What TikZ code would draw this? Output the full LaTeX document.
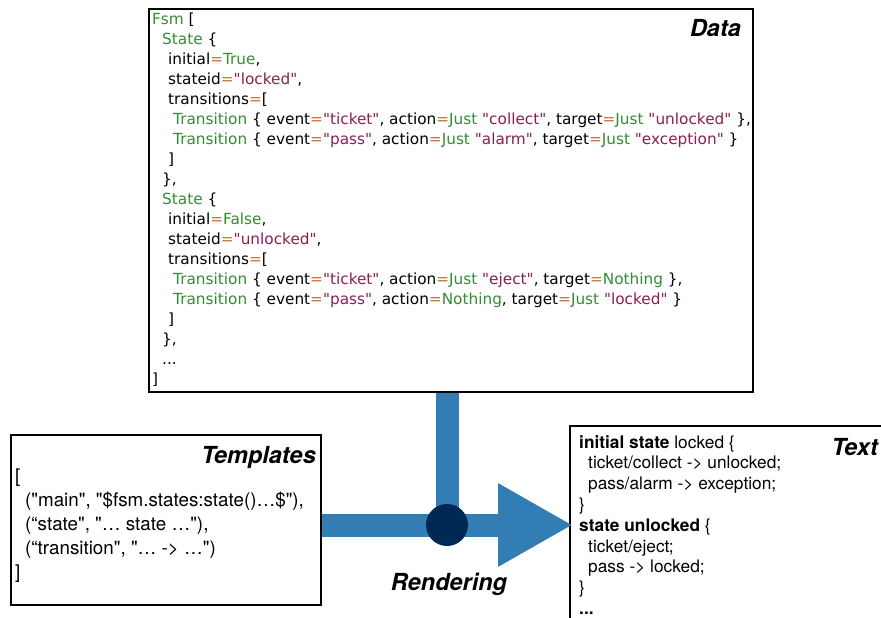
\documentclass[tikz,border=0pt]{standalone}
\usepackage{fontspec}
\setmainfont{TeX Gyre Heros}[Ligatures=TeXOff]
\newfontfamily\codefont{DejaVu Sans}[Ligatures=TeXOff]
\usetikzlibrary{positioning,arrows.meta}

\definecolor{fsmgreen}{RGB}{52,140,52}
\definecolor{fsmstring}{RGB}{140,30,80}
\definecolor{fsmequal}{RGB}{200,110,60}
\definecolor{flowblue}{RGB}{50,125,180}
\definecolor{joinnavy}{RGB}{0,40,85}

\newcommand{\fsmkw}[1]{\textcolor{fsmgreen}{#1}}
\newcommand{\fsmstr}[1]{\textcolor{fsmstring}{"#1"}}
\newcommand{\fsmeq}{\textcolor{fsmequal}{=}}

\begin{document}
\begin{tikzpicture}[x=1pt, y=-1pt,
boxnode/.style={rectangle, draw=black, line width=2pt, anchor=north west, inner sep=0pt},
codenode/.style={anchor=north west, inner sep=0pt, align=left},
titlenode/.style={anchor=base east, inner sep=0pt, font=\fontsize{23.5}{26}\selectfont\bfseries\itshape},
flow/.style={draw=flowblue, line width=23pt},
]
\useasboundingbox (0,0) rectangle (881,618);

%Boxes
\node[boxnode, minimum width=604pt, minimum height=383pt] (data)      at (148,8)   {};
\node[boxnode, minimum width=310pt, minimum height=170pt] (templates) at (10,434)  {};
\node[boxnode, minimum width=340pt, minimum height=220pt] (text)      at (569,425) {};

%Titles
\node[titlenode] (datatitle)      at (741,37)  {Data};
\node[titlenode] (templatestitle) at (316,463) {Templates};
\node[titlenode] (texttitle)      at (878,455) {Text};
\node[titlenode, anchor=base] (rendering) at (449,590) {Rendering};

%Contents
\node[codenode, font=\codefont\fontsize{15.3}{20}\selectfont] (datacode) at (152,13) {%
\fsmkw{Fsm} [\\
\hspace{10pt}\fsmkw{State} \{\\
\hspace{16pt}initial\fsmeq\fsmkw{True},\\
\hspace{16pt}stateid\fsmeq\fsmstr{locked},\\
\hspace{16pt}transitions\fsmeq[\\
\hspace{21pt}\fsmkw{Transition} \{ event\fsmeq\fsmstr{ticket}, action\fsmeq\fsmkw{Just} \fsmstr{collect}, target\fsmeq\fsmkw{Just} \fsmstr{unlocked} \},\\
\hspace{21pt}\fsmkw{Transition} \{ event\fsmeq\fsmstr{pass}, action\fsmeq\fsmkw{Just} \fsmstr{alarm}, target\fsmeq\fsmkw{Just} \fsmstr{exception} \}\\
\hspace{16pt}]\\
\hspace{10pt}\},\\
\hspace{10pt}\fsmkw{State} \{\\
\hspace{16pt}initial\fsmeq\fsmkw{False},\\
\hspace{16pt}stateid\fsmeq\fsmstr{unlocked},\\
\hspace{16pt}transitions\fsmeq[\\
\hspace{21pt}\fsmkw{Transition} \{ event\fsmeq\fsmstr{ticket}, action\fsmeq\fsmkw{Just} \fsmstr{eject}, target\fsmeq\fsmkw{Nothing} \},\\
\hspace{21pt}\fsmkw{Transition} \{ event\fsmeq\fsmstr{pass}, action\fsmeq\fsmkw{Nothing}, target\fsmeq\fsmkw{Just} \fsmstr{locked} \}\\
\hspace{16pt}]\\
\hspace{10pt}\},\\
\hspace{10pt}...\\
]};

\node[codenode, font=\fontsize{18.8}{24}\selectfont] (templatescode) at (15,469) {%
[\\
\hspace{10pt}("main", "\$fsm.states:state()…\$"),\\
\hspace{10pt}(“state", "… state …"),\\
\hspace{10pt}(“transition", "… -> …")\\
]};

\node[codenode, font=\fontsize{17.3}{20.8}\selectfont] (textcode) at (579,435) {%
\textbf{initial state} locked \{\\
\hspace{9pt}ticket/collect -> unlocked;\\
\hspace{9pt}pass/alarm -> exception;\\
\}\\
\textbf{state unlocked} \{\\
\hspace{9pt}ticket/eject;\\
\hspace{9pt}pass -> locked;\\
\}\\
\textbf{...}};

%Flow
\coordinate (joinpt) at (447,525);
\draw[flow] (data.south -| joinpt) -- (joinpt);
\draw[flow, -{Triangle[length=75pt, width=78pt]}] (templates.east |- joinpt) -- ([xshift=4pt]text.west |- joinpt);
\node[circle, fill=joinnavy, minimum size=42pt, inner sep=0pt] (join) at (joinpt) {};

\end{tikzpicture}
\end{document}
